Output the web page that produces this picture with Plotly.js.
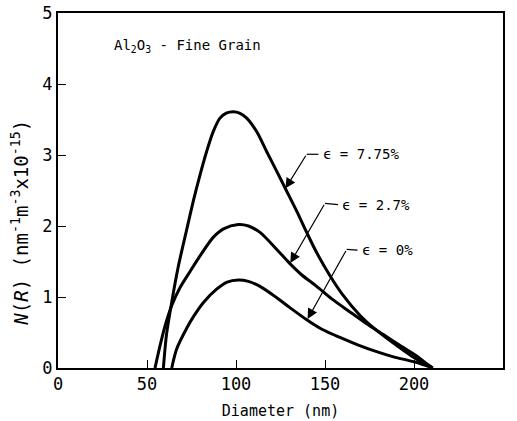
<!DOCTYPE html>
<html>
<head>
<meta charset="utf-8">
<script src="https://cdn.plot.ly/plotly-3.0.1.min.js"></script>
<style>html,body{margin:0;padding:0;background:#fff}#chart{width:517px;height:421px}</style>
</head>
<body>
<div id="chart"></div>
<script>
// Data
const seriesNames = ["ϵ = 7.75%", "ϵ = 2.7%", "ϵ = 0%"];
const diam775 = [59.2, 61, 63.9, 67.5, 72.3, 76, 79.8, 83.5, 87.2, 91, 94.5, 98.5, 102, 106, 111.6, 117.2, 122.9, 128.5, 134.1, 139.7, 145, 152.8, 160, 169.7, 178, 188.4, 198, 205, 210.5];
const n775 = [0, 0.48, 0.93, 1.42, 1.95, 2.35, 2.72, 3.05, 3.33, 3.52, 3.59, 3.61, 3.59, 3.52, 3.33, 3.05, 2.77, 2.49, 2.21, 1.91, 1.64, 1.30, 1.03, 0.74, 0.55, 0.35, 0.18, 0.07, 0];
const diam27 = [54.5, 57, 60, 63.9, 68.5, 74.2, 79.8, 87.2, 93, 101.3, 107, 113.5, 122.9, 130.3, 137, 145.3, 154, 164, 173, 182.8, 192, 201.5, 206, 210.5];
const n27 = [0, 0.28, 0.58, 0.88, 1.13, 1.36, 1.58, 1.84, 1.96, 2.02, 2.00, 1.91, 1.67, 1.47, 1.31, 1.15, 0.97, 0.79, 0.63, 0.47, 0.32, 0.17, 0.08, 0];
const diam0 = [63.9, 66.7, 72.3, 76, 81.6, 89.1, 95, 101.3, 107, 113.5, 122.9, 130.3, 139.7, 148, 158.4, 168, 179, 188, 197.8, 205, 210.5];
const n0 = [0, 0.27, 0.56, 0.72, 0.92, 1.11, 1.21, 1.24, 1.22, 1.15, 0.99, 0.85, 0.68, 0.55, 0.43, 0.33, 0.23, 0.16, 0.10, 0.05, 0];
const xTicks = [0, 50, 100, 150, 200, 250];
const yTicks = [0, 1, 2, 3, 4, 5];

const FONT = "DejaVu Sans Mono, monospace";
const lineStyle = {color: "#000", width: 3, shape: "spline", smoothing: 0.8};
const traces = [
  {x: diam775, y: n775, name: seriesNames[0]},
  {x: diam27, y: n27, name: seriesNames[1]},
  {x: diam0, y: n0, name: seriesNames[2]}
].map(t => Object.assign(t, {type: "scatter", mode: "lines", line: lineStyle, hoverinfo: "skip"}));

// leader lines: text position, kink, arrow tip (data coords)
const leaders = [
  {label: seriesNames[0], tx: 147.5, ty: 3.01, kx: 139.7, ky: 3.01, px: 127.8, py: 2.53},
  {label: seriesNames[1], tx: 158.5, ty: 2.30, kx: 150.0, ky: 2.32, px: 130.5, py: 1.48},
  {label: seriesNames[2], tx: 169.5, ty: 1.66, kx: 162.2, ky: 1.67, px: 140.2, py: 0.69}
];
const annotations = [];
const shapes = [];
leaders.forEach(L => {
  annotations.push({x: L.tx, y: L.ty, xref: "x", yref: "y", text: L.label, showarrow: false,
    xanchor: "left", yanchor: "middle", font: {family: FONT, size: 14, color: "#000"}});
  annotations.push({x: L.px, y: L.py, xref: "x", yref: "y", ax: L.kx, ay: L.ky, axref: "x", ayref: "y",
    text: "", showarrow: true, arrowhead: 2, arrowsize: 1.7, arrowwidth: 1.2, arrowcolor: "#000", standoff: 0});
  shapes.push({type: "line", xref: "x", yref: "y", x0: L.kx, y0: L.ky, x1: L.tx - 1.2, y1: L.ty,
    line: {color: "#000", width: 1.2}});
});
annotations.push({x: 30.5, y: 4.54, xref: "x", yref: "y", xanchor: "left", yanchor: "middle", showarrow: false,
  text: "Al<sub>2</sub>O<sub>3</sub> - Fine Grain", font: {family: FONT, size: 14, color: "#000"}});
annotations.push({x: -0.085, y: 0.41, xref: "paper", yref: "paper", showarrow: false, textangle: -90,
  xanchor: "center", yanchor: "middle",
  text: "<i>N</i>(<i>R</i>) (nm<sup>-1</sup>m<sup>-3</sup>x10<sup>-15</sup>)",
  font: {family: FONT, size: 19, color: "#000"}});

const layout = {
  width: 517, height: 421,
  margin: {l: 58, r: 14, t: 13, b: 53},
  paper_bgcolor: "#fff", plot_bgcolor: "#fff",
  showlegend: false,
  font: {family: FONT, color: "#000"},
  xaxis: {range: [0, 250], tickvals: xTicks, ticktext: xTicks.map(String), ticks: "inside", ticklen: 8,
    tickwidth: 1, tickcolor: "#000", showline: true, linecolor: "#000", linewidth: 2, mirror: true,
    showgrid: false, zeroline: false, tickfont: {family: FONT, size: 17, color: "#000"},
    title: {text: "Diameter (nm)", font: {family: FONT, size: 15, color: "#000"}, standoff: 12}},
  yaxis: {range: [0, 5], tickvals: yTicks, ticktext: yTicks.map(String), ticks: "inside", ticklen: 8,
    tickwidth: 1, tickcolor: "#000", showline: true, linecolor: "#000", linewidth: 2, mirror: true,
    showgrid: false, zeroline: false, tickfont: {family: FONT, size: 17, color: "#000"}},
  annotations: annotations,
  shapes: shapes
};
Plotly.newPlot("chart", traces, layout, {staticPlot: true, displayModeBar: false});
</script>
</body>
</html>
